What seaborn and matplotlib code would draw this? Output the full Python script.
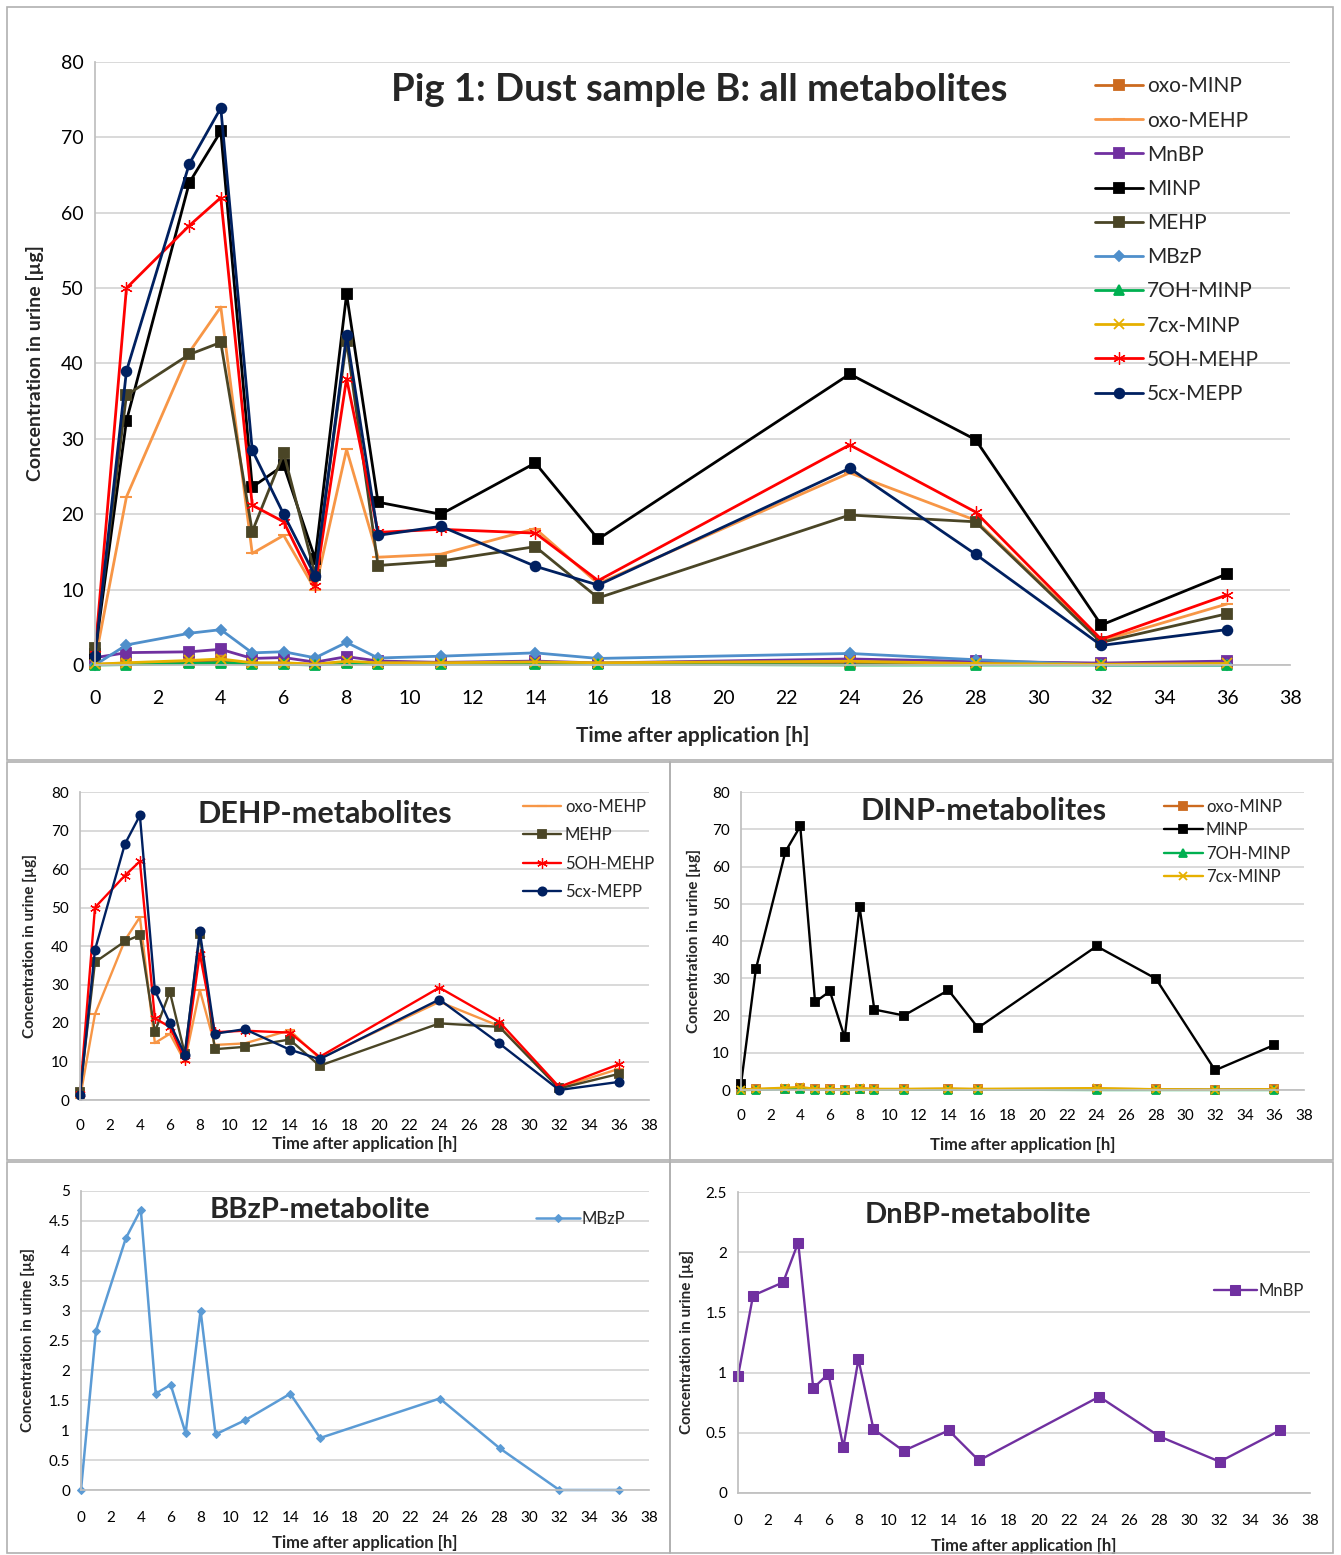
import matplotlib
matplotlib.use("Agg")
import matplotlib.pyplot as plt
import seaborn as sns
import numpy as np
from matplotlib.patches import Rectangle
from matplotlib.ticker import MultipleLocator, FormatStrFormatter

sns.set_theme(style="white")
plt.rcParams['font.family'] = ['Lato', 'DejaVu Sans']

# ---------------- data ----------------
times = [0, 1, 3, 4, 5, 6, 7, 8, 9, 11, 14, 16, 24, 28, 32, 36]

oxo_minp = [0.1, 0.2, 0.4, 0.5, 0.2, 0.2, 0.1, 0.4, 0.2, 0.2, 0.3, 0.2, 0.3, 0.2, 0.1, 0.2]
oxo_mehp = [0.5, 22.3, 41.5, 47.5, 14.8, 17.2, 10.0, 28.6, 14.3, 14.7, 18.1, 10.8, 25.5, 19.2, 3.2, 8.1]
mnbp = [0.97, 1.64, 1.75, 2.08, 0.87, 0.99, 0.38, 1.11, 0.53, 0.35, 0.52, 0.27, 0.80, 0.47, 0.26, 0.52]
minp = [1.5, 32.4, 64.0, 70.8, 23.6, 26.5, 14.1, 49.2, 21.6, 20.0, 26.8, 16.7, 38.6, 29.9, 5.3, 12.1]
mehp = [2.2, 35.8, 41.2, 42.8, 17.7, 28.1, 12.0, 43.0, 13.2, 13.8, 15.7, 8.9, 19.9, 19.0, 3.0, 6.8]
mbzp = [0.0, 2.66, 4.21, 4.69, 1.61, 1.76, 0.95, 3.0, 0.93, 1.17, 1.61, 0.87, 1.53, 0.70, 0.0, 0.0]
oh7_minp = [0.0, 0.05, 0.2, 0.3, 0.1, 0.1, 0.0, 0.2, 0.1, 0.1, 0.1, 0.1, 0.0, 0.0, 0.0, 0.0]
cx7_minp = [0.1, 0.3, 0.6, 0.8, 0.3, 0.3, 0.1, 0.5, 0.3, 0.3, 0.4, 0.3, 0.5, 0.2, 0.1, 0.2]
oh5_mehp = [1.5, 50.0, 58.3, 62.0, 21.2, 19.0, 10.5, 38.0, 17.6, 18.0, 17.5, 11.2, 29.2, 20.3, 3.4, 9.3]
cx5_mepp = [1.2, 39.0, 66.5, 73.9, 28.5, 20.0, 11.8, 43.8, 17.2, 18.4, 13.1, 10.6, 26.1, 14.7, 2.6, 4.7]

# name, values, color, marker, markersize, marker edge width
series = {
    'oxo-MINP': (oxo_minp, '#CC6A1F', 's', 7, 1.3),
    'oxo-MEHP': (oxo_mehp, '#F79646', '_', 8, 1.5),
    'MnBP': (mnbp, '#7030A0', 's', 7, 1.3),
    'MINP': (minp, '#000000', 's', 7, 1.3),
    'MEHP': (mehp, '#4A4526', 's', 7, 1.3),
    'MBzP': (mbzp, '#4F8FCB', 'D', 5, 1.3),
    '7OH-MINP': (oh7_minp, '#00B050', '^', 7, 1.3),
    '7cx-MINP': (cx7_minp, '#E6B000', 'x', 7, 1.3),
    '5OH-MEHP': (oh5_mehp, '#FF0000', (6, 2, 0), 9, 0.9),
    '5cx-MEPP': (cx5_mepp, '#002060', 'o', 7, 1.3),
}

W, H = 1341, 1555
fig = plt.figure(figsize=(W / 100, H / 100), dpi=100)

def pos(l, r, t, b):
    return [l / W, 1 - b / H, (r - l) / W, (b - t) / H]

# panel frames
for (l, t, r, b) in [(7, 7, 1333, 760), (7, 762, 670, 1160), (670, 762, 1333, 1160),
                     (7, 1162, 670, 1553), (670, 1162, 1333, 1553)]:
    fig.patches.append(Rectangle((l / W, 1 - b / H), (r - l) / W, (b - t) / H,
                                 transform=fig.transFigure, fill=False,
                                 edgecolor='#B0B0B0', lw=1.2))

def style_ax(ax, ymax, ystep, tick_fs, label_fs, ylab_fs, xlabelpad=4, ylabelpad=6,
             fmt=None, xpad=8):
    ax.set_xlim(0, 38)
    ax.set_ylim(0, ymax)
    ax.xaxis.set_major_locator(MultipleLocator(2))
    ax.yaxis.set_major_locator(MultipleLocator(ystep))
    if fmt:
        ax.yaxis.set_major_formatter(FormatStrFormatter(fmt))
    ax.yaxis.grid(True, color='#D0D0D0', lw=1.1)
    ax.xaxis.grid(False)
    ax.set_axisbelow(True)
    for s in ['top', 'right']:
        ax.spines[s].set_visible(False)
    ax.spines['left'].set_color('#BFBFBF')
    ax.spines['bottom'].set_color('#BFBFBF')
    ax.tick_params(axis='y', length=0, labelsize=tick_fs, colors='#000000', pad=8)
    ax.tick_params(axis='x', length=0, labelsize=tick_fs, colors='#000000', pad=xpad)
    ax.set_xlabel('Time after application [h]', fontsize=label_fs, fontweight='bold', labelpad=xlabelpad)
    ax.set_ylabel('Concentration in urine [µg]', fontsize=ylab_fs, fontweight='bold', labelpad=ylabelpad)

def draw(ax, names, lw, ms_scale):
    for n in names:
        vals, c, m, ms, mew = series[n]
        sns.lineplot(x=times, y=vals, ax=ax, color=c, marker=m, markersize=ms * ms_scale,
                     markeredgecolor=c, markerfacecolor=c, markeredgewidth=mew,
                     lw=lw, label=n, estimator=None, sort=False, clip_on=False)

# ---- top panel ----
ax1 = fig.add_axes(pos(95, 1290, 62, 665))
draw(ax1, list(series.keys()), 2.0, 1.0)
style_ax(ax1, 80, 10, 14, 15, 14, xlabelpad=14, ylabelpad=12, xpad=18)
ax1.text(0.506, 0.953, 'Pig 1: Dust sample B: all metabolites', transform=ax1.transAxes,
         ha='center', va='center', fontsize=27.5, fontweight='bold')
ax1.legend(loc='upper left', bbox_to_anchor=(0.83, 0.99), frameon=False, fontsize=15,
           handlelength=2.3, labelspacing=0.68, handletextpad=0.2, borderaxespad=0)

# ---- DEHP ----
ax2 = fig.add_axes(pos(80, 649, 792, 1100))
draw(ax2, ['oxo-MEHP', 'MEHP', '5OH-MEHP', '5cx-MEPP'], 1.7, 0.85)
style_ax(ax2, 80, 10, 11, 12, 11, xlabelpad=2, ylabelpad=10, xpad=14)
ax2.text(0.43, 0.93, 'DEHP-metabolites', transform=ax2.transAxes,
         ha='center', va='center', fontsize=22, fontweight='bold')
ax2.legend(loc='upper left', bbox_to_anchor=(0.767, 1.0), frameon=False, fontsize=12,
           handlelength=2.3, labelspacing=0.75, handletextpad=0.2, borderaxespad=0)

# ---- DINP ----
ax3 = fig.add_axes(pos(741, 1304, 792, 1090))
draw(ax3, ['oxo-MINP', 'MINP', '7OH-MINP', '7cx-MINP'], 1.7, 0.85)
style_ax(ax3, 80, 10, 11, 12, 11, xlabelpad=10, ylabelpad=8, xpad=14)
ax3.text(0.43, 0.935, 'DINP-metabolites', transform=ax3.transAxes,
         ha='center', va='center', fontsize=22, fontweight='bold')
ax3.legend(loc='upper left', bbox_to_anchor=(0.74, 1.0), frameon=False, fontsize=12,
           handlelength=2.3, labelspacing=0.45, handletextpad=0.2, borderaxespad=0)

# ---- BBzP ----
ax4 = fig.add_axes(pos(81, 649, 1191, 1490))
sns.lineplot(x=times, y=mbzp, ax=ax4, color='#5B9BD5', marker='D', markersize=4,
             markeredgecolor='#5B9BD5', lw=1.8, label='MBzP', estimator=None, sort=False,
             clip_on=False)
style_ax(ax4, 5, 0.5, 11, 12, 11, xlabelpad=7, ylabelpad=10, fmt='%g', xpad=15)
ax4.text(0.42, 0.935, 'BBzP-metabolite', transform=ax4.transAxes,
         ha='center', va='center', fontsize=21, fontweight='bold')
ax4.legend(loc='upper left', bbox_to_anchor=(0.79, 0.955), frameon=False, fontsize=12,
           handlelength=2.6, handletextpad=0.1, borderaxespad=0)

# ---- DnBP ----
ax5 = fig.add_axes(pos(738, 1310, 1192, 1493))
sns.lineplot(x=times, y=mnbp, ax=ax5, color='#7030A0', marker='s', markersize=6.5,
             markeredgecolor='#7030A0', lw=1.7, label='MnBP', estimator=None, sort=False,
             clip_on=False)
style_ax(ax5, 2.5, 0.5, 11, 12, 11, xlabelpad=7, ylabelpad=8, fmt='%g', xpad=15)
ax5.text(0.42, 0.925, 'DnBP-metabolite', transform=ax5.transAxes,
         ha='center', va='center', fontsize=21, fontweight='bold')
ax5.legend(loc='upper left', bbox_to_anchor=(0.82, 0.72), frameon=False, fontsize=12,
           handlelength=2.6, handletextpad=0.1, borderaxespad=0)

fig.savefig('out.png', dpi=100)
